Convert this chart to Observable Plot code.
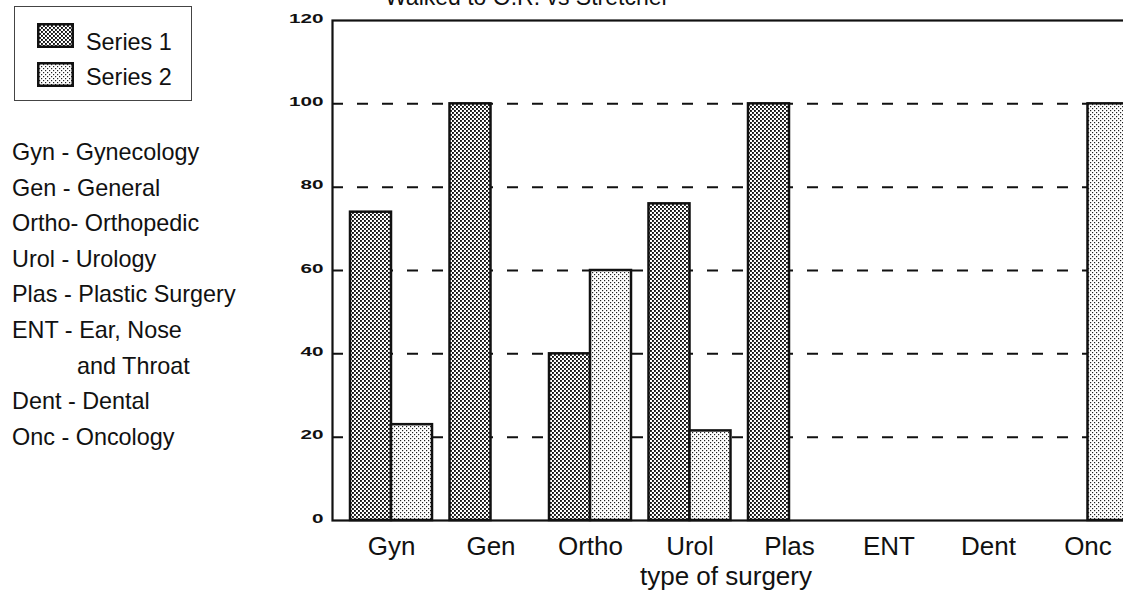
<!DOCTYPE html>
<html>
<head>
<meta charset="utf-8">
<script src="https://cdn.jsdelivr.net/npm/d3@7"></script>
<script src="https://cdn.jsdelivr.net/npm/@observablehq/plot@0.6"></script>
<style>
  html, body { margin: 0; padding: 0; overflow: hidden; background: #fff; width: 1123px; height: 592px; }
  body { position: relative; font-family: "Liberation Sans", Arial, sans-serif; color: #111; }
  #chart { position: absolute; left: 0; top: 0; }
  #title { position: absolute; left: 385px; top: -14.5px; font-size: 23px; line-height: 23px; white-space: nowrap; }
  #legendBox { position: absolute; left: 14px; top: 6px; width: 176px; height: 93px; border: 1.5px solid #444; }
  .sw { position: absolute; left: 37px; }
  .lgText { position: absolute; left: 86px; font-size: 23.4px; line-height: 22px; white-space: nowrap; }
  #abbr { position: absolute; left: 12px; top: 135px; font-size: 23.4px; line-height: 35.6px; white-space: pre; }
  #xlabel { position: absolute; left: 640px; top: 566px; font-size: 26px; line-height: 20px; white-space: nowrap; }
</style>
</head>
<body>
<div id="chart"></div>
<script>
// ---- data ----
const categories = ["Gyn", "Gen", "Ortho", "Urol", "Plas", "ENT", "Dent", "Onc"];
const series1 = [74, 100, 40, 76, 100, 0, 0, 0];
const series2 = [23, 0, 60, 21.5, 0, 0, 0, 100];
const seriesNames = ["Series 1", "Series 2"];
const yTicks = [0, 20, 40, 60, 80, 100, 120];
const gridValues = [20, 40, 60, 80, 100];
const titleText = "Walked to O.R. vs Stretcher";
const xLabelText = "type of surgery";
const abbreviations = [
  "Gyn - Gynecology",
  "Gen - General",
  "Ortho- Orthopedic",
  "Urol - Urology",
  "Plas - Plastic Surgery",
  "ENT - Ear, Nose",
  "          and Throat",
  "Dent - Dental",
  "Onc - Oncology"
];

// ---- build ----
const rows = categories.map((c, i) => ({cat: c, s1: series1[i], s2: series2[i]}));

const xOpts = {type: "band", domain: categories, range: [332, 1146.5], paddingInner: 0.1759, paddingOuter: 0.181, round: false, align: 0.5};
const xs = Plot.scale({x: xOpts});
const half = xs.bandwidth / 2;

const svg = Plot.plot({
  width: 1147,
  height: 592,
  marginLeft: 332,
  marginRight: 0,
  marginTop: 20,
  marginBottom: 72,
  style: {background: "transparent", fontFamily: "Liberation Sans, Arial, sans-serif", color: "#111"},
  x: {...xOpts, label: null},
  y: {domain: [0, 120], label: null},
  marks: [
    Plot.ruleY(gridValues, {stroke: "#111", strokeWidth: 2, strokeDasharray: "11,14"}),
    Plot.barY(rows.filter(d => d.s1 > 0), {x: "cat", y: "s1", fill: "url(#patS1)", stroke: "#111", strokeWidth: 2.5, insetLeft: 0, insetRight: half}),
    Plot.barY(rows.filter(d => d.s2 > 0), {x: "cat", y: "s2", fill: "url(#patS2)", stroke: "#111", strokeWidth: 2.5, insetLeft: half, insetRight: 0}),
    Plot.frame({stroke: "#111", strokeWidth: 2.2}),
    Plot.axisY({ticks: yTicks, tickSize: 0, tickPadding: 9, dy: -2, fontSize: 13, fontWeight: "bold", label: null}),
    Plot.axisX({tickSize: 0, tickPadding: 16, fontSize: 26, label: null})
  ]
});
svg.style.maxWidth = "none";
svg.style.overflow = "hidden";

// patterns (halftone fills)
const ns = "http://www.w3.org/2000/svg";
const defs = document.createElementNS(ns, "defs");
defs.innerHTML = `
  <pattern id="patS1" patternUnits="userSpaceOnUse" width="4" height="4">
    <rect width="4" height="4" fill="#fff"/>
    <rect x="0" y="0" width="1.9" height="1.9" fill="#111"/>
    <rect x="2" y="2" width="1.9" height="1.9" fill="#111"/>
  </pattern>
  <pattern id="patS2" patternUnits="userSpaceOnUse" width="4" height="4">
    <rect width="4" height="4" fill="#fff"/>
    <rect x="0" y="0" width="1.2" height="1.2" fill="#222"/>
    <rect x="2" y="2" width="1.2" height="1.2" fill="#222"/>
  </pattern>`;
svg.insertBefore(defs, svg.firstChild);

// wide, squat y tick numerals as in the original
svg.querySelectorAll('[aria-label="y-axis tick label"] text').forEach(t => {
  const n = t.textContent.trim().length;
  t.setAttribute("textLength", n * 11.5);
  t.setAttribute("lengthAdjust", "spacingAndGlyphs");
});

document.getElementById("chart").appendChild(svg);

// title
const title = document.createElement("div");
title.id = "title";
title.textContent = titleText;
document.body.appendChild(title);

// x axis title
const xl = document.createElement("div");
xl.id = "xlabel";
xl.textContent = xLabelText;
document.body.appendChild(xl);

// legend
const box = document.createElement("div");
box.id = "legendBox";
document.body.appendChild(box);
const swTops = [23, 62];
const txtTops = [31, 66];
seriesNames.forEach((name, i) => {
  const s = document.createElementNS(ns, "svg");
  s.setAttribute("class", "sw");
  s.setAttribute("width", 37);
  s.setAttribute("height", 25);
  s.style.top = swTops[i] + "px";
  s.innerHTML = `<rect x="1.25" y="1.25" width="34.5" height="22.5" fill="url(#patS${i + 1})" stroke="#111" stroke-width="2.5"/>`;
  document.body.appendChild(s);
  const t = document.createElement("div");
  t.className = "lgText";
  t.style.top = txtTops[i] + "px";
  t.textContent = name;
  document.body.appendChild(t);
});

// abbreviation list
const ab = document.createElement("div");
ab.id = "abbr";
ab.textContent = abbreviations.join("\n");
document.body.appendChild(ab);
</script>
</body>
</html>
